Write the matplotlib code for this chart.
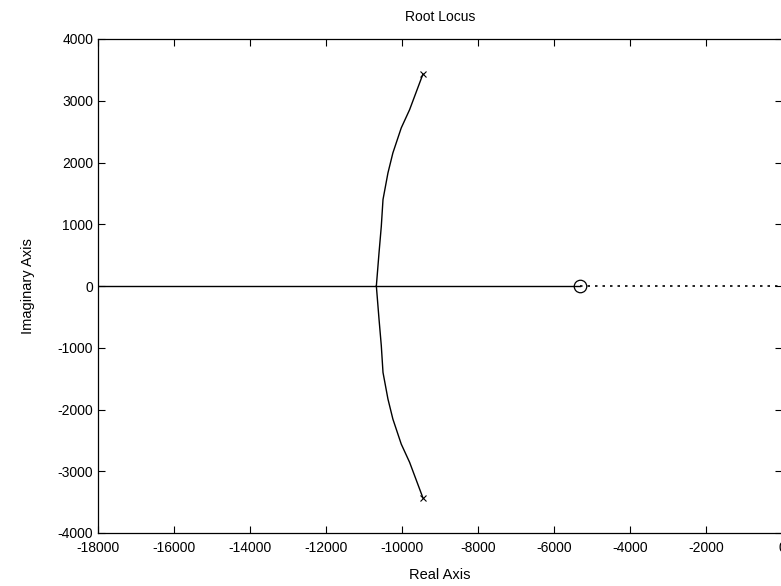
import matplotlib
matplotlib.use('Agg')
import matplotlib.pyplot as plt
import numpy as np

# Values
# upper complex branch, from pole down to the break-in point on the real axis
branch_re = [-9450, -9800, -10020, -10240, -10370, -10500, -10545, -10605, -10675]
branch_im = [3430, 2855, 2560, 2155, 1830, 1400, 965, 535, 0]

# open loop pole pair and zero
pole_re = [-9450, -9450]
pole_im = [3430, -3430]
zero_re = [-5314]
zero_im = [0]

# real axis segments
solid_re = [-18000, -5314]
dotted_re = [-5314, 0]

x_ticks = list(range(-18000, 1, 2000))
y_ticks = list(range(-4000, 4001, 1000))

# -----------------------------------------------------------------------------

plt.rcParams['font.family'] = ['Liberation Sans', 'DejaVu Sans']
plt.rcParams['axes.unicode_minus'] = False

fig = plt.figure(figsize=(7.81, 5.86), dpi=100)
ax = fig.add_axes([98 / 781, 53 / 586, 684 / 781, 494 / 586])

# complex branches (upper and mirrored lower)
ax.plot(branch_re, branch_im, color='black', linewidth=1.0)
ax.plot(branch_re, [-v for v in branch_im], color='black', linewidth=1.0)

# real axis locus
ax.plot(solid_re, [0, 0], color='black', linewidth=1.0)
ax.plot(dotted_re, [0, 0], color='black', linewidth=1.2, linestyle=(0, (1.5, 3)))

# poles and zero
ax.plot(pole_re, pole_im, linestyle='none', marker='x', color='black', markersize=5, markeredgewidth=0.8)
ax.plot(zero_re, zero_im, linestyle='none', marker='o', markerfacecolor='none',
        markeredgecolor='black', markersize=9, markeredgewidth=0.9)

ax.set_xlim(-18000, 0)
ax.set_ylim(-4000, 4000)
ax.set_xticks(x_ticks)
ax.set_yticks(y_ticks)
ax.tick_params(direction='in', top=True, right=True, length=5, width=0.8, labelsize=10)
ax.tick_params(axis='x', pad=6)
for s in ax.spines.values():
    s.set_linewidth(0.9)

ax.set_title('Root Locus', fontsize=10, pad=13)
ax.set_xlabel('Real Axis', fontsize=10.5, labelpad=9)
ax.set_ylabel('Imaginary Axis', fontsize=10.5, labelpad=16)

plt.savefig('out.png', dpi=100)
